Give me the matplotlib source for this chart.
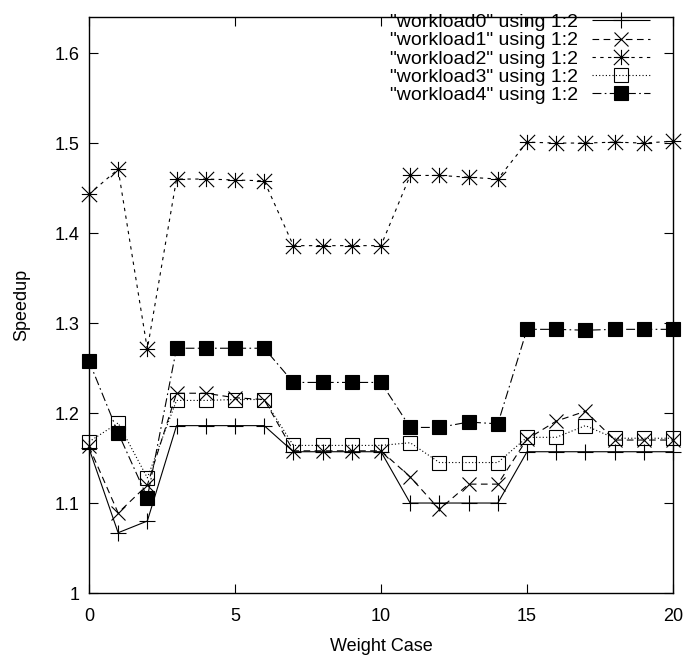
import matplotlib
matplotlib.use("Agg")
from matplotlib import pyplot as plt
from matplotlib.path import Path

plt.rcParams['font.family'] = ['Liberation Sans', 'DejaVu Sans']

weight_case = list(range(21))

workload0 = [1.161, 1.067, 1.080, 1.186, 1.186, 1.186, 1.186,
             1.157, 1.157, 1.157, 1.157, 1.100, 1.100, 1.100, 1.100,
             1.157, 1.157, 1.157, 1.157, 1.157, 1.157]
workload1 = [1.163, 1.089, 1.120, 1.222, 1.222, 1.217, 1.215,
             1.158, 1.158, 1.158, 1.158, 1.129, 1.093, 1.121, 1.121,
             1.171, 1.191, 1.202, 1.170, 1.170, 1.170]
workload2 = [1.443, 1.471, 1.271, 1.460, 1.460, 1.459, 1.458,
             1.386, 1.386, 1.386, 1.386, 1.464, 1.464, 1.462, 1.460,
             1.501, 1.500, 1.500, 1.501, 1.500, 1.502]
workload3 = [1.168, 1.189, 1.128, 1.214, 1.214, 1.215, 1.215,
             1.164, 1.164, 1.164, 1.164, 1.167, 1.145, 1.145, 1.145,
             1.173, 1.173, 1.186, 1.172, 1.172, 1.172]
workload4 = [1.258, 1.178, 1.106, 1.272, 1.272, 1.272, 1.272,
             1.234, 1.234, 1.234, 1.234, 1.184, 1.184, 1.190, 1.188,
             1.293, 1.293, 1.292, 1.293, 1.293, 1.293]

# gnuplot style "star": plus and cross drawn on top of each other
star = Path([(-1, 0), (1, 0), (0, -1), (0, 1), (-1, -1), (1, 1), (-1, 1), (1, -1)],
            [Path.MOVETO, Path.LINETO] * 4)

series = [
    (workload0, '+', 11, (0, ()), 'k'),
    (workload1, 'x', 10, (0, (6, 4)), 'k'),
    (workload2, star, 11, (0, (3, 4)), 'k'),
    (workload3, 's', 10, (0, (1, 2)), 'none'),
    (workload4, 's', 10, (0, (8, 3, 1.5, 3)), 'k'),
]

fig = plt.figure(figsize=(6.84, 6.56), dpi=100)
ax = fig.add_axes([0.130, 0.096, 0.854, 0.878])

for i, (values, marker, size, ls, face) in enumerate(series):
    ax.plot(weight_case, values, color='k', lw=0.8, linestyle=ls,
            marker=marker, markersize=size, markeredgewidth=0.8,
            markerfacecolor=face, markeredgecolor='k',
            label=f'"workload{i}" using 1:2', clip_on=False)

ax.set_xlim(0, 20)
ax.set_ylim(1.0, 1.64)
ax.set_xticks([0, 5, 10, 15, 20])
ax.set_yticks([1.0, 1.1, 1.2, 1.3, 1.4, 1.5, 1.6])
ax.set_yticklabels(['1', '1.1', '1.2', '1.3', '1.4', '1.5', '1.6'])
ax.tick_params(axis='x', pad=11)
ax.tick_params(direction='in', length=6.5, width=0.8, top=True, right=True,
               labelsize=13)
ax.tick_params(axis='y', pad=7)
for spine in ax.spines.values():
    spine.set_linewidth(1.0)

ax.set_xlabel('Weight Case', fontsize=13, labelpad=9)
ax.set_ylabel('Speedup', fontsize=13, labelpad=17)

ax.legend(loc='upper right', bbox_to_anchor=(0.961, 1.006), frameon=False,
          markerfirst=False, fontsize=14, handlelength=3.0, handletextpad=0.7,
          labelspacing=0.03, borderpad=0, borderaxespad=0)

fig.savefig('out.png', dpi=100)
